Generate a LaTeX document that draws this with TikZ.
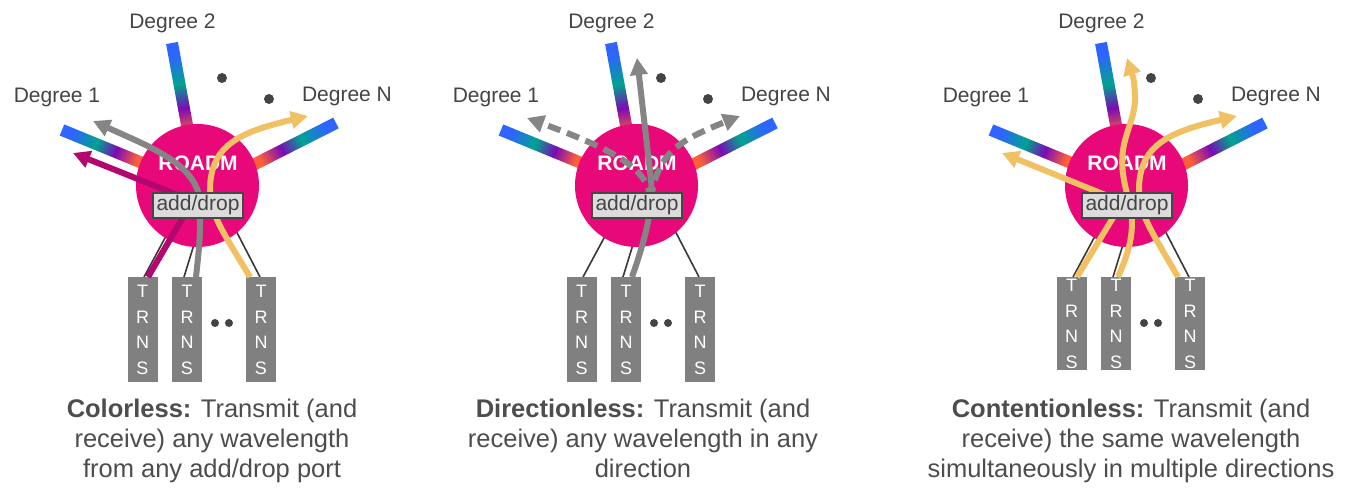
\documentclass[tikz,border=0pt]{standalone}
\usepackage{fontspec}
\setmainfont{Liberation Sans}
\usetikzlibrary{arrows.meta,calc}
\definecolor{roadm}{HTML}{E8087A}
\definecolor{dblue}{HTML}{2E64FF}
\definecolor{dteal}{HTML}{00A38F}
\definecolor{dpurple}{HTML}{7A0BB5}
\definecolor{dorange}{HTML}{FF6038}
\definecolor{flowgray}{HTML}{858585}
\definecolor{flowmag}{HTML}{B3066E}
\definecolor{flowyel}{HTML}{F0C062}
\definecolor{boxgray}{HTML}{808080}
\definecolor{txtgray}{HTML}{444444}
\definecolor{capgray}{HTML}{4D4D4D}
\definecolor{adfill}{HTML}{DCDCDC}
\definecolor{adline}{HTML}{474747}
\pgfdeclarehorizontalshading{degshade}{100bp}{color(0bp)=(dblue); color(31bp)=(dblue); color(46bp)=(dteal); color(58bp)=(dpurple); color(71bp)=(dorange); color(100bp)=(dorange)}
\pgfdeclarelayer{back}
\pgfdeclarelayer{front}
\pgfsetlayers{back,main,front}

\newcommand\gradbar[5]{%
  \pgfmathsetmacro\gbang{atan2(-((#4)-(#2)),(#3)-(#1))}%
  \begin{scope}[transform canvas={shift={(#1,#2)},rotate=\gbang}]
    \shade[shading=degshade] (0,-6) rectangle (#5,6);
  \end{scope}}

\tikzset{
  trnsbox/.style={anchor=north, fill=boxgray, minimum width=30pt, inner sep=0pt, text=white, align=center, font=\fontsize{18}{25.5}\selectfont},
  thinlink/.style={draw=black!78, line width=1.6pt},
  flow/.style={line width=6pt, -{Triangle[length=17pt,width=17pt]}},
  deglabel/.style={anchor=base, inner sep=0pt, text=txtgray, font=\fontsize{21}{25}\selectfont},
  roadmlabel/.style={anchor=base, inner sep=0pt, text=white, font=\bfseries\fontsize{21}{24}\selectfont},
  adbox/.style={draw=adline, line width=2pt, fill=adfill, minimum width=90pt, minimum height=25pt, inner sep=0pt, text=txtgray, font=\fontsize{21}{25}\selectfont},
  caption/.style={anchor=base, inner sep=0pt, text=capgray, font=\fontsize{25.5}{30}\selectfont},
  hub/.style={circle, fill=roadm, minimum size=123pt, inner sep=0pt}
}

\newcommand\panel[3]{%
  \begin{scope}[shift={(#2,0)}]
    \node[trnsbox, minimum height=#3] (#1b1) at (142.5,277) {T\\R\\N\\S};
    \node[trnsbox, minimum height=#3] (#1b2) at (187,277) {T\\R\\N\\S};
    \node[trnsbox, minimum height=#3] (#1b3) at (261,277) {T\\R\\N\\S};
    \coordinate (#1l1) at (170.4,228);
    \coordinate (#1l2) at (196,238);
    \coordinate (#1l3) at (232,223);
    \fill[txtgray] (215,323) circle (4) (229,323) circle (4);
    \fill[txtgray] (222,78) circle (5) (269,99) circle (5);
    \node[deglabel] (#1d2) at (172.5,28.5) {Degree 2};
    \node[deglabel] (#1d1) at (57,102.5) {Degree 1};
    \node[deglabel] (#1dn) at (347,102) {Degree N};
    \begin{pgfonlayer}{back}
      \draw[thinlink] (#1l1) -- ($(#1b1.north)+(1.5,0)$);
      \draw[thinlink] (#1l2) -- ($(#1b2.north)+(-3,0)$);
      \draw[thinlink] (#1l3) -- ($(#1b3.north)+(-1,0)$);
    \end{pgfonlayer}
  \end{scope}
  \begin{pgfonlayer}{back}
    \gradbar{62+#2}{130}{140+#2}{162}{88}
    \gradbar{172+#2}{43}{187+#2}{125}{100}
    \gradbar{336+#2}{123}{257+#2}{163}{92}
    \begin{scope}[shift={(#2,0)}]
      \node[hub] (#1c) at (197.5,185.5) {};
      \node[roadmlabel] (#1r) at (198,170) {ROADM};
    \end{scope}
  \end{pgfonlayer}
  \begin{pgfonlayer}{front}
    \begin{scope}[shift={(#2,0)}]
      \node[adbox] (#1ad) at (198,205.5) {add/drop};
    \end{scope}
  \end{pgfonlayer}}

\begin{document}
\begin{tikzpicture}[x=1pt,y=-1pt]
\begin{pgfonlayer}{back}
  \fill[white] (0,0) rectangle (1361,495);
\end{pgfonlayer}
\useasboundingbox (0,0) rectangle (1361,495);

\panel{p1}{0}{105}
\panel{p2}{439}{105}
\panel{p3}{929}{93}

% panel 1: colorless
\begin{scope}
  \coordinate (p1t1) at (73,153);
  \coordinate (p1t2) at (93,121);
  \coordinate (p1t3) at (308,116);
  \draw[flow, draw=flowmag, rounded corners=12pt] ($(p1b1.north)+(5.5,0)$) -- (192.6,201) -- (p1t1);
  \draw[flow, draw=flowgray] ($(p1b2.north)+(9,0)$) .. controls (200,240) .. (200,205) .. controls (200,165) and (150,147) .. (p1t2);
  \draw[flow, draw=flowyel] ($(p1b3.north)+(-11,0)$) .. controls (225,235) and (210,215) .. (210,190) .. controls (210,145) and (240,132) .. (p1t3);
\end{scope}

% panel 2: directionless
\begin{scope}[shift={(439,0)}]
  \coordinate (p2t1) at (88,118);
  \coordinate (p2t2) at (198,58);
  \coordinate (p2t3) at (301,116);
  \coordinate (p2s) at (212,200);
  \draw[flow, draw=flowgray, dash pattern=on 13pt off 7pt] (p2s) .. controls (209,170) and (181,152) .. (p2t1);
  \draw[flow, draw=flowgray, dash pattern=on 13pt off 7pt] (p2s) .. controls (218,155) and (236,142) .. (p2t3);
  \draw[flow, draw=flowgray] ($(p2b2.north)+(6,0)$) .. controls (206,240) and (215,206) .. (212,180) -- (p2t2);
\end{scope}

% panel 3: contentionless
\begin{scope}[shift={(929,0)}]
  \coordinate (p3t1) at (73,153);
  \coordinate (p3t2) at (198,58);
  \coordinate (p3t3) at (308,116);
  \draw[flow, draw=flowyel, rounded corners=12pt] ($(p3b1.north)+(5.5,0)$) -- (193.5,202) -- (p3t1);
  \draw[flow, draw=flowyel] ($(p3b2.north)+(2,0)$) .. controls (201,250) and (206,230) .. (201,205) .. controls (197,190) and (191,170) .. (194,150) .. controls (197,130) and (207,115) .. (206,95) .. controls (205,80) .. (p3t2);
  \draw[flow, draw=flowyel] ($(p3b3.north)+(-12,0)$) .. controls (225,235) and (210,215) .. (210,190) .. controls (210,145) and (240,132) .. (p3t3);
\end{scope}

% captions
\node[caption] (c11) at (212,417) {\textbf{Colorless:} Transmit (and};
\node[caption] (c12) at (212,447) {receive) any wavelength};
\node[caption] (c13) at (212,477) {from any add/drop port};
\node[caption] (c21) at (643,417) {\textbf{Directionless:} Transmit (and};
\node[caption] (c22) at (643,447) {receive) any wavelength in any};
\node[caption] (c23) at (643,477) {direction};
\node[caption] (c31) at (1131,417) {\textbf{Contentionless:} Transmit (and};
\node[caption] (c32) at (1131,447) {receive) the same wavelength};
\node[caption] (c33) at (1131,477) {simultaneously in multiple directions};
\end{tikzpicture}
\end{document}
